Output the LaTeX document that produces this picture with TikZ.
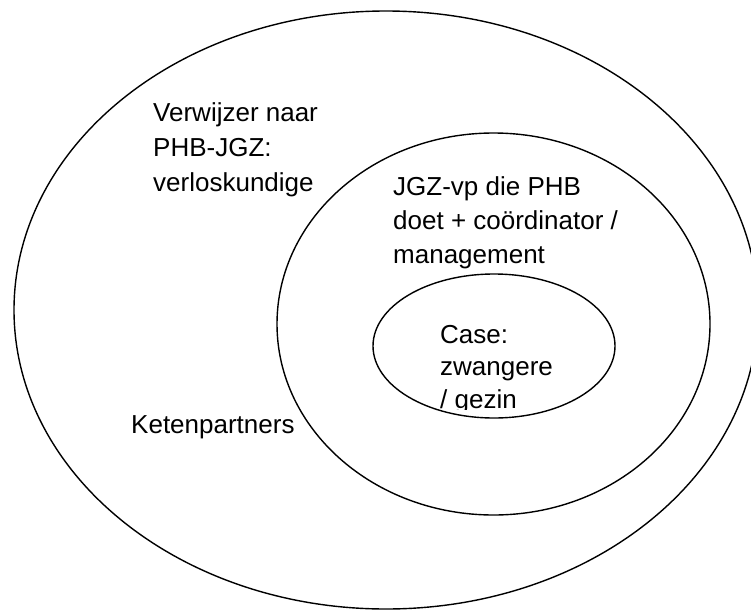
\documentclass[tikz,border=0pt]{standalone}
\usepackage{fontspec}
\setmainfont{Liberation Sans}
\begin{document}
\begin{tikzpicture}[x=1pt,y=-1pt,
  ring/.style={draw=black,line width=1.4pt},
  lbl/.style={anchor=base west,inner sep=0pt,font=\fontsize{26pt}{34pt}\selectfont}]
\useasboundingbox (0,0) rectangle (751,610);
\clip (0,0) rectangle (751,610);
\fill[white] (0,0) rectangle (751,610);
% rings
\draw[ring] (386,310) ellipse [x radius=372pt, y radius=299pt];
\draw[ring] (493.5,324) ellipse [x radius=216.5pt, y radius=191pt];
\draw[ring] (494,346) ellipse [x radius=121pt, y radius=72pt];
% outer ring labels
\node[lbl] (v1) at (153,121) {Verwijzer naar};
\node[lbl] (v2) at (153,156) {PHB-JGZ:};
\node[lbl] (v3) at (153,191) {verloskundige};
\node[lbl] (k1) at (131,433) {Ketenpartners};
% middle ring labels
\node[lbl] (j1) at (393,195) {JGZ-vp die PHB};
\node[lbl] (j2) at (393,229) {doet + coördinator /};
\node[lbl] (j3) at (393,263) {management};
% inner ring labels, clipped at the text box bottom
\begin{scope}
\clip (380,260) rectangle (620,409);
\node[lbl] (c1) at (440,343) {Case:};
\node[lbl] (c2) at (440,375) {zwangere};
\node[lbl] (c3) at (440,408) {/ gezin};
\end{scope}
\end{tikzpicture}
\end{document}
